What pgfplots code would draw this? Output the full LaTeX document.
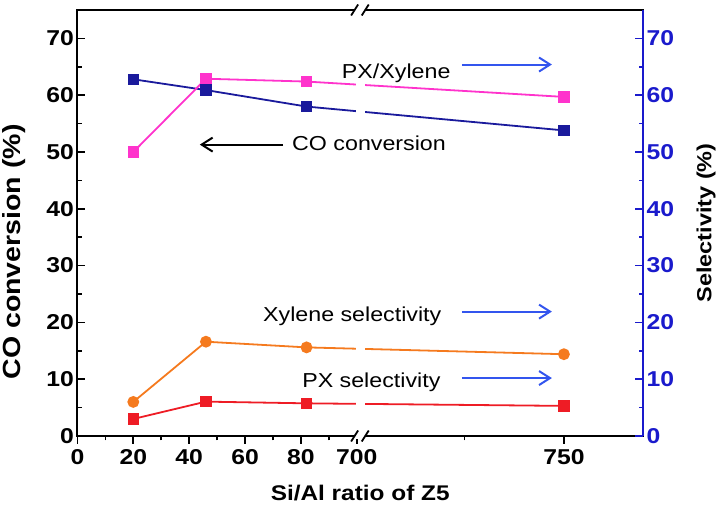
\documentclass[border=0pt]{standalone}
\usepackage{fontspec}
\setmainfont{Liberation Sans}[FakeStretch=1.15]
\usepackage{pgfplots}
\usepackage{pgfplotstable}
\pgfplotsset{compat=1.18}
\usetikzlibrary{arrows.meta}
\definecolor{cob}{HTML}{1A1A9C}
\definecolor{pxx}{HTML}{FF33CC}
\definecolor{xyl}{HTML}{F57A1E}
\definecolor{pxs}{HTML}{EE1C25}
\definecolor{rax}{HTML}{1A1ACC}
\definecolor{arr}{HTML}{3355EE}
% x positions: 20, 46, 82 on a linear scale; 750 drawn at 174.1 (after the axis break at 100 = 700)
\pgfplotstableread{
x y
20 62.8
46 60.9
82 58.0
174.1 53.8
}\codata
\pgfplotstableread{
x y
20 50.0
46 62.9
82 62.4
174.1 59.7
}\pxxdata
\pgfplotstableread{
x y
20 6.0
46 16.6
82 15.6
174.1 14.4
}\xyldata
\pgfplotstableread{
x y
20 3.0
46 6.05
82 5.75
174.1 5.3
}\pxsdata
\newcommand{\annf}{\fontsize{20.2}{24}\selectfont}
\newcommand{\tickf}{\fontsize{21.5}{25}\selectfont\bfseries}
\pgfplotsset{base/.style={scale only axis, width=565.6pt, height=426pt,
  xmin=0, xmax=202.4, ymin=0, ymax=75, clip=false,
  axis line style={line width=1.8pt},
  major tick length=8pt, minor tick length=4.5pt,
  every tick/.style={line width=1.6pt},
  tick label style={font=\tickf},
  /pgf/number format/assume math mode=true}}
\begin{document}
\begin{tikzpicture}
% x axis ticks (outside)
\begin{axis}[base, axis x line*=bottom, hide y axis, tick align=outside,
  xtick={0,20,40,60,80,100,174.1}, xticklabels={0,20,40,60,80,700,750},
  minor xtick={10,30,50,70,90,138.5},
  xticklabel style={yshift=-2pt},
  xlabel={Si/Al ratio of Z5},
  xlabel style={font=\fontsize{21.2}{25}\selectfont\bfseries, at={(axis description cs:0.5,0)}, anchor=center, yshift=-57pt}]
\end{axis}
% left axis
\begin{axis}[base, axis lines=box, xtick=\empty, ytick pos=left, tick align=inside,
  ytick={0,10,...,70}, minor ytick={5,15,...,65},
  ylabel={CO conversion (\%)},
  ylabel style={font=\fontsize{24.8}{29}\selectfont\bfseries, at={(axis description cs:0,0.432)}, anchor=center, yshift=63.4pt}]
\addplot[cob, line width=1.8pt, mark=square*, mark size=4.8pt] table {\codata};
\addplot[pxx, line width=1.8pt, mark=square*, mark size=4.8pt] table {\pxxdata};
\addplot[xyl, line width=1.8pt, mark=*, mark size=5pt] table {\xyldata};
\addplot[pxs, line width=1.8pt, mark=square*, mark size=4.8pt] table {\pxsdata};
\end{axis}
% right axis
\begin{axis}[base, axis x line=none, axis y line*=right, tick align=inside,
  axis line style={rax, line width=1.8pt},
  ytick={0,10,...,70}, minor ytick={5,15,...,65},
  every tick/.style={rax, line width=1.6pt},
  yticklabel style={rax, font=\tickf},
  ylabel={Selectivity (\%)},
  ylabel style={font=\fontsize{20.4}{24}\selectfont\bfseries, at={(axis description cs:1,0.5)}, anchor=center, yshift=-63pt}]
% gaps in the lines at the axis break
\fill[white] (axis cs:99.7,55.9) rectangle (axis cs:102.9,58.3);
\fill[white] (axis cs:99.7,60.6) rectangle (axis cs:102.9,63.0);
\fill[white] (axis cs:99.7,14.2) rectangle (axis cs:102.9,16.5);
\fill[white] (axis cs:99.7,4.5) rectangle (axis cs:102.9,6.8);
% axis break marks
\fill[white] ([yshift=-3pt]axis cs:99.2,0) rectangle ([yshift=3pt]axis cs:103.0,0);
\draw[line width=1.8pt] ([xshift=-3.5pt,yshift=-5.5pt]axis cs:99.2,0) -- ++(7pt,11pt);
\draw[line width=1.8pt] ([xshift=-3.5pt,yshift=-5.5pt]axis cs:103.0,0) -- ++(7pt,11pt);
\fill[white] ([yshift=-3pt]axis cs:99.2,75) rectangle ([yshift=3pt]axis cs:103.0,75);
\draw[line width=1.8pt] ([xshift=-3.5pt,yshift=-5.5pt]axis cs:99.2,75) -- ++(7pt,11pt);
\draw[line width=1.8pt] ([xshift=-3.5pt,yshift=-5.5pt]axis cs:103.0,75) -- ++(7pt,11pt);
% annotations
\node[anchor=base west, inner sep=0pt, font=\annf] at (axis cs:94.6,63.0) {PX/Xylene};
\node[anchor=base west, inner sep=0pt, font=\annf] at (axis cs:76.8,50.2) {CO conversion};
\node[anchor=base west, inner sep=0pt, font=\annf] at (axis cs:66.4,20.2) {Xylene selectivity};
\node[anchor=base west, inner sep=0pt, font=\annf] at (axis cs:80.4,8.5) {PX selectivity};
\draw[black, line width=2pt, -{Straight Barb[length=11pt,width=14pt]}] (axis cs:73.6,51.3) -- (axis cs:43.8,51.3);
\draw[arr, line width=2pt, -{Straight Barb[length=11pt,width=14pt]}] (axis cs:137.6,65.4) -- (axis cs:169.8,65.4);
\draw[arr, line width=2pt, -{Straight Barb[length=11pt,width=14pt]}] (axis cs:137.6,21.9) -- (axis cs:169.8,21.9);
\draw[arr, line width=2pt, -{Straight Barb[length=11pt,width=14pt]}] (axis cs:137.6,10.2) -- (axis cs:169.8,10.2);
\end{axis}
\pgfresetboundingbox
\path[use as bounding box] (-77.4pt,-70pt) rectangle (646.6pt,436pt);
\end{tikzpicture}
\end{document}
